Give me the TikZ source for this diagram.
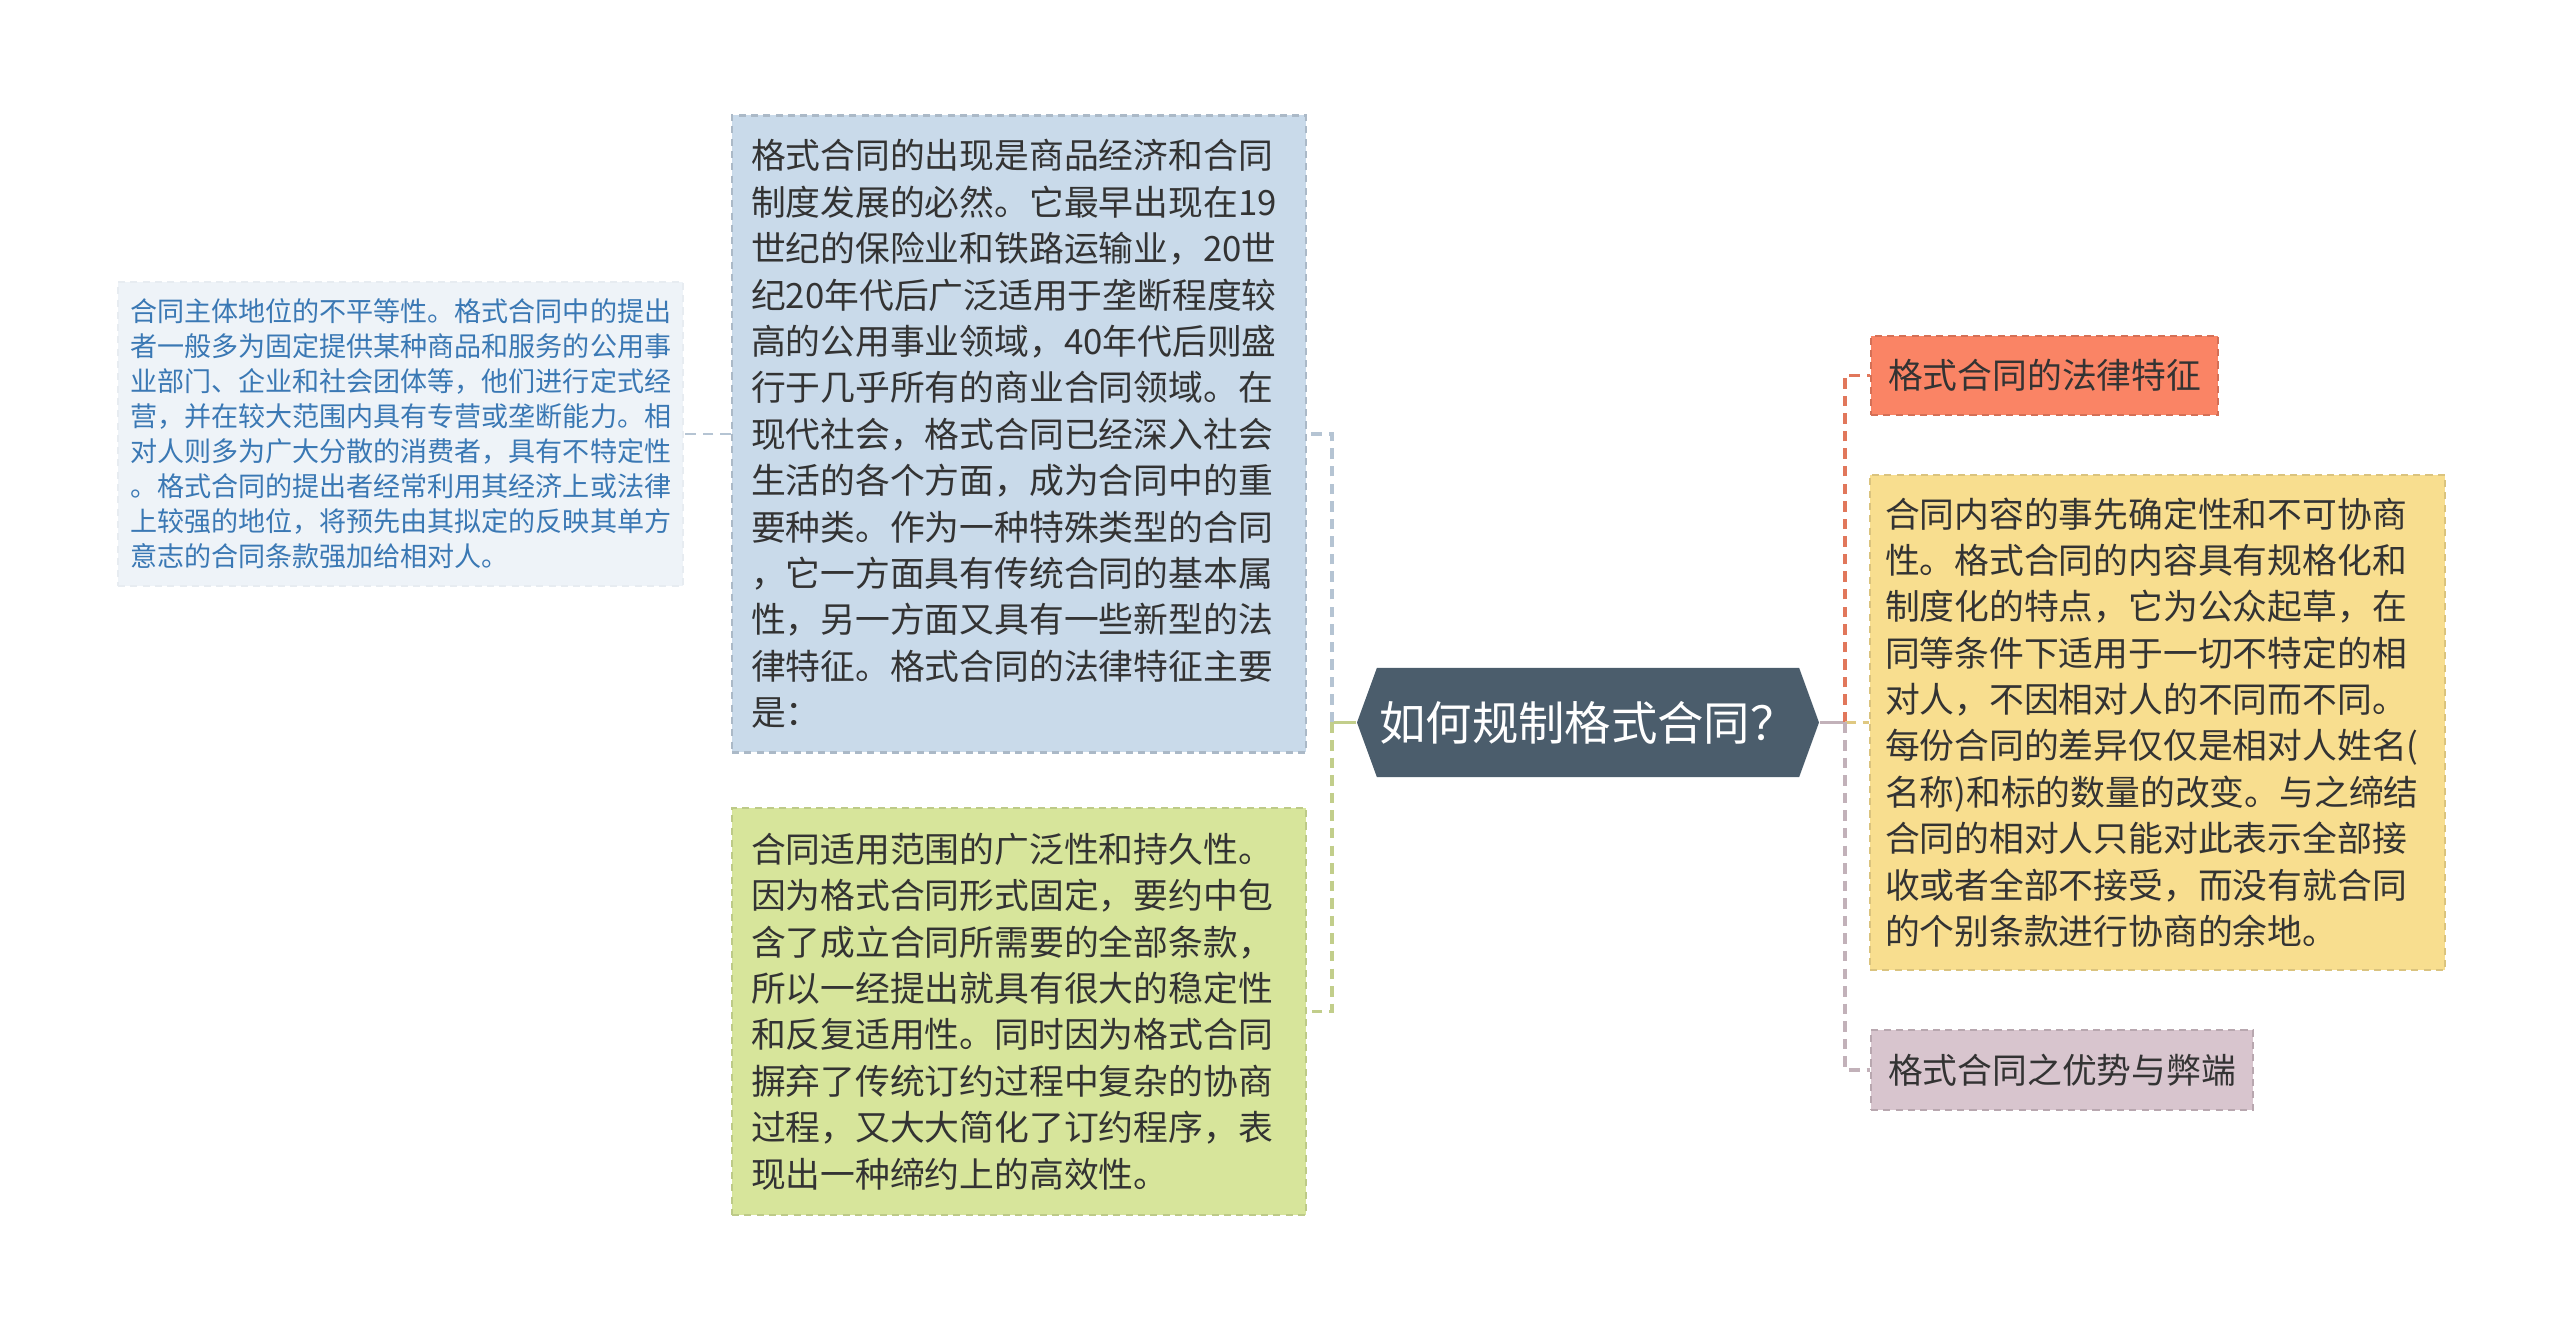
\documentclass[tikz,border=0pt]{standalone}
\usepackage{fontspec}
\setmainfont{Noto Sans CJK SC}
\usetikzlibrary{shapes.symbols}

\definecolor{rootfill}{HTML}{4B5D6C}
\definecolor{textdark}{HTML}{333333}
\definecolor{notetext}{HTML}{3A78B4}
\definecolor{notefill}{HTML}{EEF3F8}
\definecolor{bluefill}{HTML}{C9DAEA}
\definecolor{greenfill}{HTML}{D7E59B}
\definecolor{redfill}{HTML}{FA8465}
\definecolor{yellowfill}{HTML}{F8DE8F}
\definecolor{pinkfill}{HTML}{D8C5CE}

\begin{document}
\begin{tikzpicture}[box/.style={align=left, text=textdark, inner xsep=0.19cm, line width=0.6pt, dash pattern=on 2pt off 1.5pt, font=\fontsize{9.9}{13.2}\selectfont},
  link/.style={line width=1pt, dash pattern=on 3pt off 2pt}]

\useasboundingbox (0,0) rectangle (25.6,13.3);

\node [signal, signal to=west and east, signal pointer angle=140, fill=rootfill, text=white, minimum width=4.62cm, minimum height=1.09cm, inner sep=0pt, font=\fontsize{13.2}{15}\selectfont] (root) at (15.88,6.075) {如何规制格式合同？};

\node [box, fill=bluefill, draw=bluefill!85!black, text width=5.36cm, minimum height=6.37cm] (history) at (10.19,8.96) {格式合同的出现是商品经济和合同\\制度发展的必然。它最早出现在19\\世纪的保险业和铁路运输业，20世\\纪20年代后广泛适用于垄断程度较\\高的公用事业领域，40年代后则盛\\行于几乎所有的商业合同领域。在\\现代社会，格式合同已经深入社会\\生活的各个方面，成为合同中的重\\要种类。作为一种特殊类型的合同\\，它一方面具有传统合同的基本属\\性，另一方面又具有一些新型的法\\律特征。格式合同的法律特征主要\\是：};

\node [box, fill=notefill, draw=notefill!97!black, text=notetext, text width=5.41cm, inner xsep=0.12cm, minimum height=3.04cm, font=\fontsize{7.7}{9.96}\selectfont] (note) at (4.005,8.96) {合同主体地位的不平等性。格式合同中的提出\\者一般多为固定提供某种商品和服务的公用事\\业部门、企业和社会团体等，他们进行定式经\\营，并在较大范围内具有专营或垄断能力。相\\对人则多为广大分散的消费者，具有不特定性\\。格式合同的提出者经常利用其经济上或法律\\上较强的地位，将预先由其拟定的反映其单方\\意志的合同条款强加给相对人。};

\node [box, fill=greenfill, draw=greenfill!88!black, text width=5.36cm, minimum height=4.07cm] (scope) at (10.19,3.185) {合同适用范围的广泛性和持久性。\\因为格式合同形式固定，要约中包\\含了成立合同所需要的全部条款，\\所以一经提出就具有很大的稳定性\\和反复适用性。同时因为格式合同\\摒弃了传统订约过程中复杂的协商\\过程，又大大简化了订约程序，表\\现出一种缔约上的高效性。};

\node [box, fill=redfill, draw=redfill!85!black, anchor=west, minimum height=0.79cm, inner xsep=0.17cm] (legal) at (18.70,9.545) {格式合同的法律特征};

\node [box, fill=yellowfill, draw=yellowfill!88!black, text width=5.45cm, inner xsep=0.15cm, minimum height=4.95cm] (fixed) at (21.575,6.075) {合同内容的事先确定性和不可协商\\性。格式合同的内容具有规格化和\\制度化的特点，它为公众起草，在\\同等条件下适用于一切不特定的相\\对人，不因相对人的不同而不同。\\每份合同的差异仅仅是相对人姓名(\\名称)和标的数量的改变。与之缔结\\合同的相对人只能对此表示全部接\\收或者全部不接受，而没有就合同\\的个别条款进行协商的余地。};

\node [box, fill=pinkfill, draw=pinkfill!85!black, anchor=west, minimum height=0.80cm, inner xsep=0.17cm] (merit) at (18.70,2.60) {格式合同之优势与弊端};

\coordinate (lj) at (13.32,6.075);
\coordinate (rj) at (18.45,6.075);

\draw [greenfill!90!black, line width=1pt] (root.west) -- (lj);
\draw [link, bluefill!90!black] (lj) |- (history.east);
\draw [link, greenfill!90!black] (lj) |- (scope.east);
\draw [link, bluefill!90!black, line width=0.7pt] (history.west) -- (note.east);

\draw [pinkfill!90!black, line width=1pt] (root.east) -- (rj);
\draw [link, redfill!90!black] (rj) |- (legal.west);
\draw [link, yellowfill!90!black] (rj) -- (fixed.west);
\draw [link, pinkfill!90!black] (rj) |- (merit.west);

\end{tikzpicture}
\end{document}
